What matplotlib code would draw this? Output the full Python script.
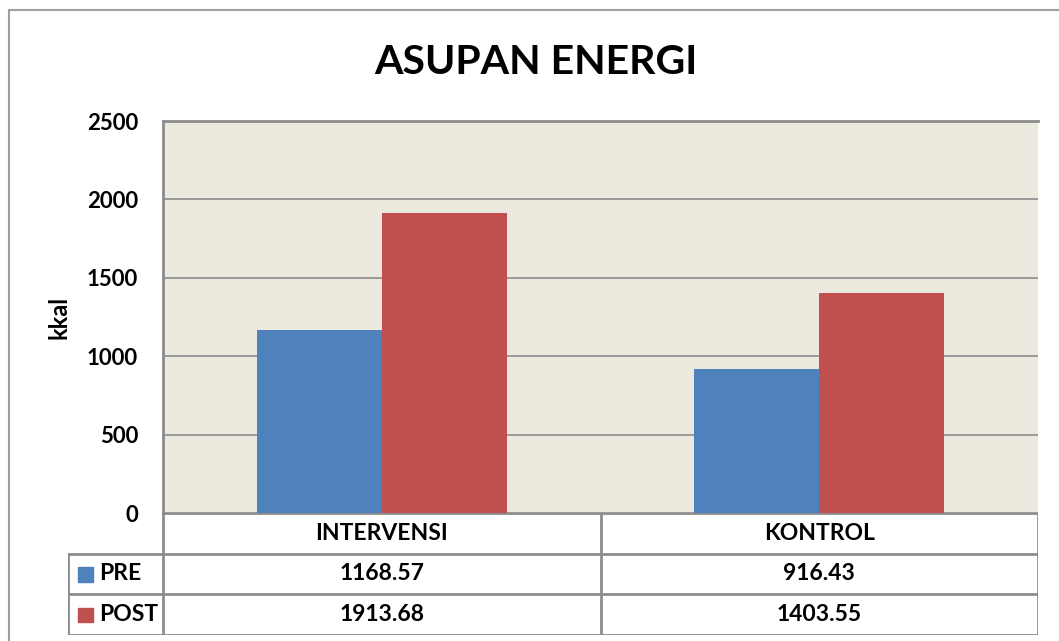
import numpy as np
import matplotlib.pyplot as plt
from matplotlib.patches import Rectangle

categories = ["INTERVENSI", "KONTROL"]
series = ["PRE", "POST"]
pre_values = [1168.57, 916.43]
post_values = [1913.68, 1403.55]
yticks = [0, 500, 1000, 1500, 2000, 2500]

colors = ["#4F81BD", "#C0504D"]
grid_c = "#8C8C8C"
W, H = 1059, 641

plt.rcParams["font.family"] = ["Lato", "DejaVu Sans"]
plt.rcParams["font.weight"] = "bold"

fig = plt.figure(figsize=(W / 100, H / 100), dpi=100)


def box(l, t, r, b):
    return [l / W, 1 - b / H, (r - l) / W, (b - t) / H]


# outer chart border
fig.patches.append(Rectangle((9 / W, -0.1), 1.2, 1 - 10 / H + 0.1, transform=fig.transFigure,
                             fill=False, edgecolor="#A0A0A0", linewidth=1.5))

ax = fig.add_axes(box(163, 121, 1038, 513))
ax.set_facecolor("#ECE9DF")
x = np.arange(len(categories)) + 0.5
w = 1 / 3.5
ax.bar(x - w / 2, pre_values, w, color=colors[0], zorder=3)
ax.bar(x + w / 2, post_values, w, color=colors[1], zorder=3)
ax.set_xlim(0, 2)
ax.set_ylim(0, 2500)
ax.set_yticks(yticks)
ax.set_yticklabels([str(v) for v in yticks], fontsize=16, fontweight="bold")
ax.tick_params(axis="y", length=0, pad=18)
ax.set_xticks([])
ax.yaxis.grid(True, color=grid_c, linewidth=1.2, zorder=0)
for s in ["right", "bottom"]:
    ax.spines[s].set_visible(False)
for s in ["top", "left"]:
    ax.spines[s].set_color(grid_c)
    ax.spines[s].set_linewidth(2)
ax.set_ylabel("kkal", fontsize=17, fontweight="bold", labelpad=12)

fig.text(536 / W, 1 - 62 / H, "ASUPAN ENERGI", fontsize=29.5, fontweight="bold",
         ha="center", va="center")

# data table
tax = fig.add_axes(box(68, 513, 1038, 635))
left = -95 / 437.5
tax.set_xlim(left, 2)
tax.set_ylim(3, 0)
tax.axis("off")
lk = dict(color=grid_c, linewidth=2, solid_capstyle="projecting")
tax.plot([0, 2], [0, 0], **lk)
for yy in [1, 2, 3]:
    tax.plot([left, 2], [yy, yy], **lk)
for xx in [0, 1, 2]:
    tax.plot([xx, xx], [0, 3], **lk)
tax.plot([left, left], [1, 3], **lk)
fs = 16.5
for i, c in enumerate(categories):
    tax.text(i + 0.5, 0.5, c, ha="center", va="center", fontsize=fs, fontweight="bold")
rows = [pre_values, post_values]
for r, (name, vals) in enumerate(zip(series, rows)):
    tax.add_patch(Rectangle((left + 0.023, r + 1.33), 0.033, 0.36, color=colors[r]))
    tax.text(left + 0.072, r + 1.5, name, ha="left", va="center", fontsize=fs, fontweight="bold")
    for i, v in enumerate(vals):
        tax.text(i + 0.5, r + 1.5, f"{v:.2f}", ha="center", va="center", fontsize=fs,
                 fontweight="bold")

fig.savefig("out.png", dpi=100)
